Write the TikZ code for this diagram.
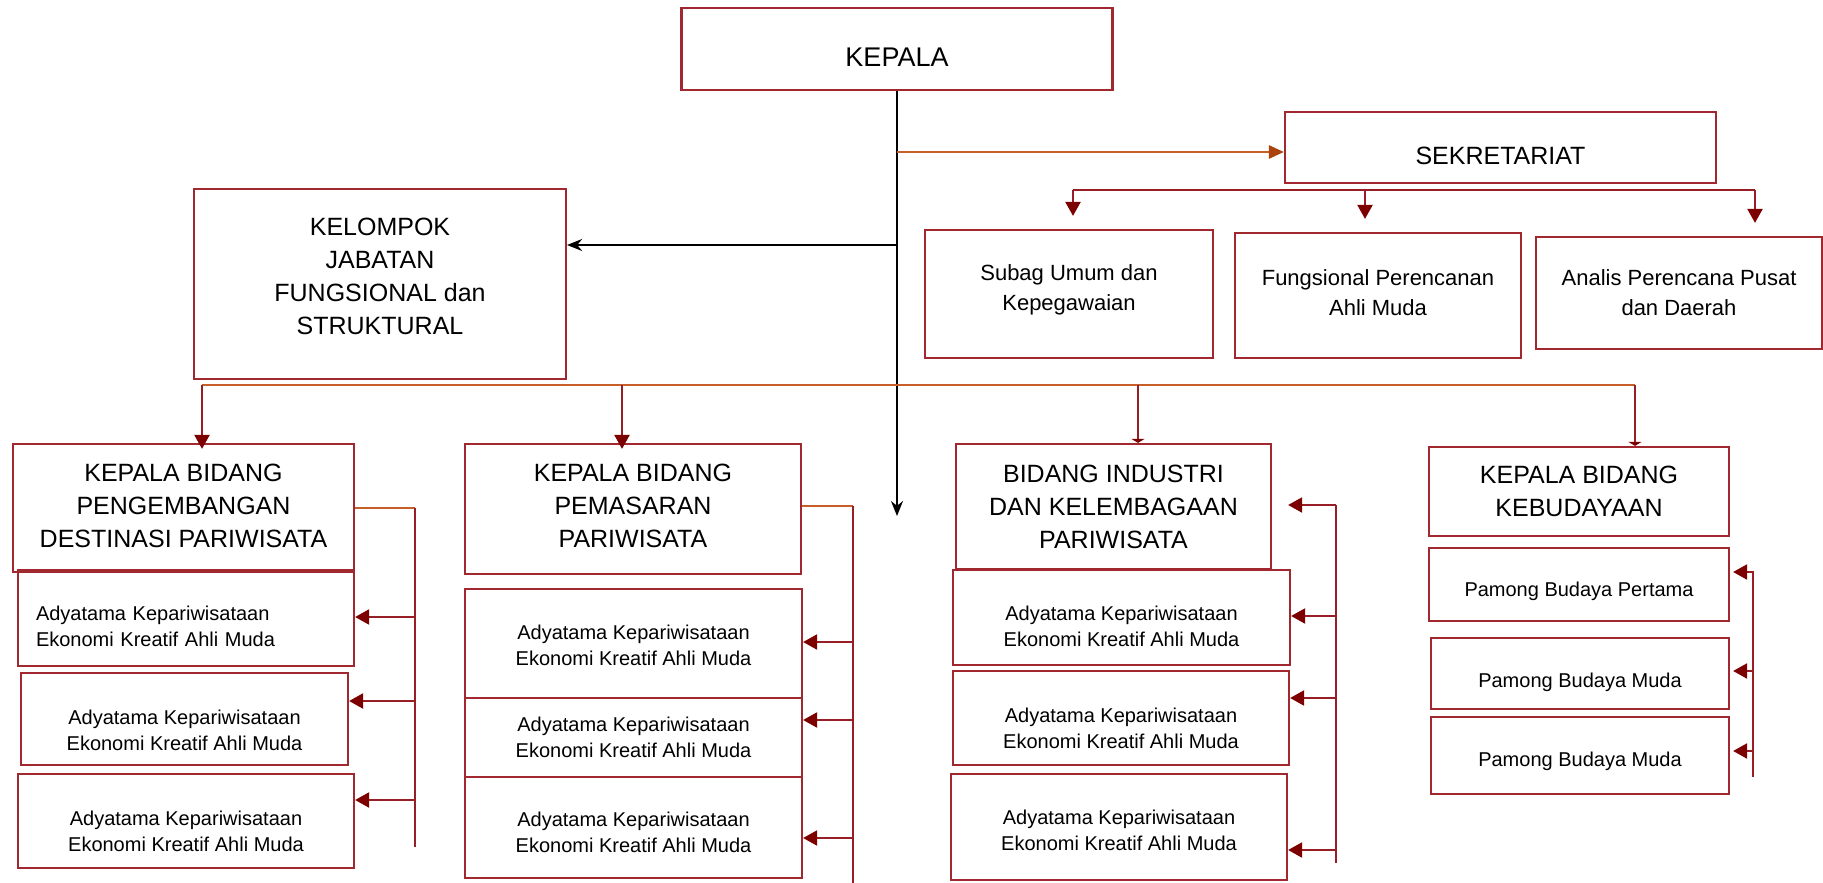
\documentclass[tikz,border=0pt]{standalone}
\usepackage{fontspec}
\setmainfont{Liberation Sans}
\usetikzlibrary{arrows.meta}
\definecolor{boxred}{RGB}{162,40,48}
\definecolor{linered}{RGB}{150,30,36}
\definecolor{tipred}{RGB}{125,0,0}
\definecolor{orng}{RGB}{198,96,40}
\definecolor{tipbrown}{RGB}{170,68,12}
\newcommand{\padtop}[1]{\rule{0pt}{#1}}
\newcommand{\padbot}[1]{\rule[-#1]{0pt}{0pt}}
\begin{document}
\begin{tikzpicture}[x=1pt, y=-1pt,
  box/.style={draw=boxred, line width=2.2pt, align=center, inner sep=0pt, font=\fontsize{25}{33}\selectfont},
  small/.style={box, font=\fontsize{20}{26}\selectfont},
  mid/.style={box, font=\fontsize{22}{30}\selectfont},
  sz/.style 2 args={minimum width=#1pt, minimum height=#2pt},
  rd/.style={draw=linered, line width=2.2pt},
  ol/.style={draw=orng, line width=2.6pt},
  rdarrow/.style={rd, -{Triangle[width=15pt,length=14pt,color=tipred]}},
  blk/.style={line width=1.8pt, -{Stealth[width=12pt,length=15pt]}}]
 \useasboundingbox (0,0) rectangle (1823,883);
 \node[box, sz={431}{82}, font=\fontsize{27}{33}\selectfont] (kepala) at (897,49) {\padtop{35pt}KEPALA};
 \node[box, sz={431}{71}] (sek) at (1500.5,147.5) {\padtop{34pt}SEKRETARIAT};
 \node[box, sz={372}{190}] (kjf) at (380,284) {KELOMPOK\\JABATAN\\FUNGSIONAL dan\\STRUKTURAL\padbot{16pt}};
 \node[mid, sz={288}{128}] (subag) at (1069,294) {Subag Umum dan\\Kepegawaian\padbot{13pt}};
 \node[mid, sz={286}{125}] (fpam) at (1378,295.5) {Fungsional Perencanan\\Ahli Muda\padbot{6pt}};
 \node[mid, sz={286}{112}] (apd) at (1679,293) {Analis Perencana Pusat\\dan Daerah};
 \node[box, sz={341}{128}] (kb1) at (183.5,508) {KEPALA BIDANG\\PENGEMBANGAN\\DESTINASI PARIWISATA\padbot{4pt}};
 \node[box, sz={336}{130}] (kb2) at (633,509) {KEPALA BIDANG\\PEMASARAN\\PARIWISATA\padbot{6pt}};
 \node[box, sz={315}{125}] (kb3) at (1113.5,506.5) {BIDANG INDUSTRI\\DAN KELEMBAGAAN\\PARIWISATA};
 \node[box, sz={300}{89}] (kb4) at (1579,491.5) {KEPALA BIDANG\\KEBUDAYAAN};
 \node[small, align=left, text width=300pt, inner xsep=18pt, minimum height=96pt] (la) at (186,618) {\padtop{31pt}Adyatama Kepariwisataan\\Ekonomi Kreatif Ahli Muda};
 \foreach \n/\x/\y/\w/\h/\t in {lb/184.5/719/327/92/37, lc/186/821/336/94/35,
   ma/633.5/643.5/337/109/19, mb/633.5/737.5/337/79/0, mc/633.5/827.5/337/101/25,
   ra/1121.5/617.5/337/95/32, rb/1121/718/336/94/35, rc/1119/827/336/106/21}
 {
     \node[small, sz={\w}{\h}] (\n) at (\x,\y) {\padtop{\t pt}Adyatama Kepariwisataan\\Ekonomi Kreatif Ahli Muda};
 }
 \node[small, sz={300}{73}] (pa) at (1579,584.5) {\padtop{28pt}Pamong Budaya Pertama};
 \node[small, sz={298}{71}] (pb) at (1580,673.5) {\padtop{32pt}Pamong Budaya Muda};
 \node[small, sz={298}{77}] (pc) at (1580,755.5) {\padtop{26pt}Pamong Budaya Muda};

 \coordinate (tend) at (897,516);
 \coordinate (tk) at (897,245);
 \coordinate (ts) at (897,152);
 \draw[blk] (kepala.south) -- (tend);
 \draw[blk] (tk) -- (tk -| kjf.east);
 \draw[ol, -{Triangle[width=13pt,length=15pt,color=tipbrown]}] (ts) -- (ts -| sek.west);

 \coordinate (s1) at (1073,190);
 \coordinate (s3) at (1755,190);
 \draw[rd] (s1) -- (s3);
 \foreach \n/\x in {subag/1073, fpam/1365, apd/1755}
 {
     \coordinate (s\n) at (\x,190);
     \draw[rdarrow, shorten >=13pt] (s\n) -- (s\n |- \n.north);
 }

 \coordinate (bl) at (202,385);
 \coordinate (br) at (1635,385);
 \draw[ol] (bl) -- (br);
 \foreach \n/\x in {kb1/202, kb2/622}
 {
     \coordinate (d\n) at (\x,385);
     \draw[rdarrow, shorten >=-6pt] (d\n) -- (d\n |- \n.north);
 }
 \foreach \n/\x in {kb3/1138, kb4/1635}
 {
     \coordinate (d\n) at (\x,385);
     \draw[rd, -{Triangle[width=13pt,length=4pt,color=tipred]}] (d\n) -- (d\n |- \n.north);
 }

 \coordinate (v1) at (415,508);
 \coordinate (v1b) at (415,847);
 \draw[ol] (kb1.east) -- (v1);
 \draw[rd] (v1) -- (v1b);
 \foreach \n/\y in {la/617, lb/701, lc/800}
 {
     \coordinate (a\n) at (415,\y);
     \draw[rdarrow] (a\n) -- (a\n -| \n.east);
 }

 \coordinate (v2) at (853,506);
 \coordinate (v2b) at (853,883);
 \draw[ol] (kb2.east |- v2) -- (v2);
 \draw[rd] (v2) -- (v2b);
 \foreach \n/\y in {ma/642, mb/720, mc/838}
 {
     \coordinate (a\n) at (853,\y);
     \draw[rdarrow] (a\n) -- (a\n -| \n.east);
 }

 \coordinate (v3) at (1336,505);
 \coordinate (v3b) at (1336,863);
 \draw[rd] (v3) -- (v3b);
 \draw[rdarrow, shorten >=16pt] (v3) -- (v3 -| kb3.east);
 \foreach \n/\y in {ra/616, rb/698, rc/850}
 {
     \coordinate (a\n) at (1336,\y);
     \draw[rdarrow] (a\n) -- (a\n -| \n.east);
 }

 \coordinate (v4) at (1753,571);
 \coordinate (v4b) at (1753,777);
 \draw[rd] (v4) -- (v4b);
 \foreach \n/\y in {pa/572, pb/671, pc/751}
 {
     \coordinate (a\n) at (1753,\y);
     \draw[rdarrow, shorten >=3pt] (a\n) -- (a\n -| \n.east);
 }
\end{tikzpicture}
\end{document}
